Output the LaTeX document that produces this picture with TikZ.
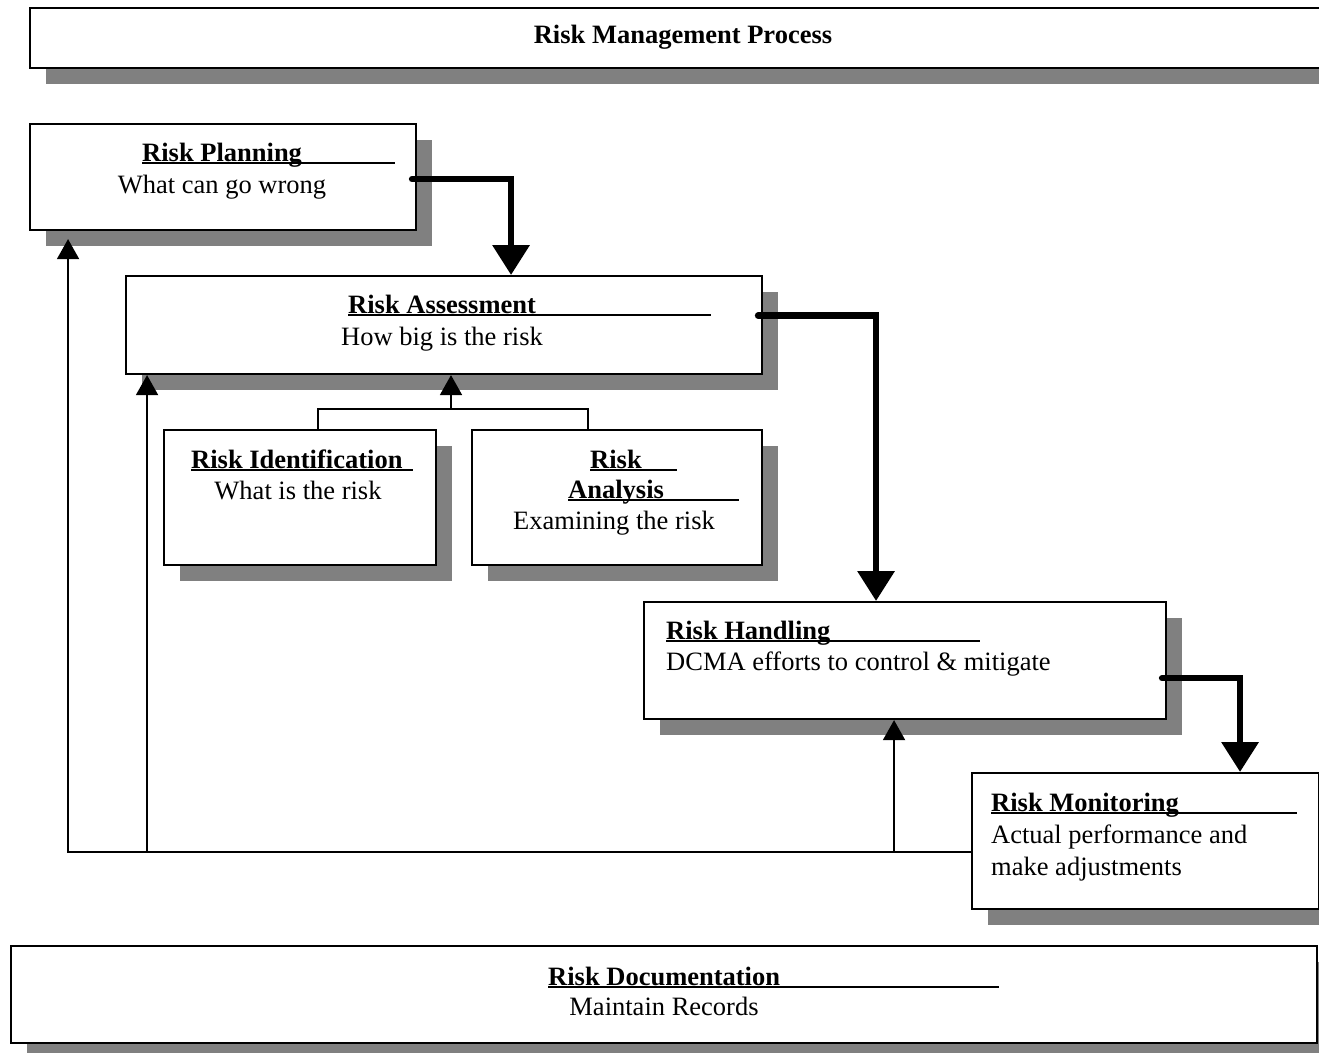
\documentclass[tikz,border=0pt]{standalone}
\usepackage{fontspec}
\setmainfont{Liberation Serif}
\usetikzlibrary{arrows.meta,shadows}
\definecolor{shadowgray}{RGB}{128,128,128}
\newcommand\diagfont{\fontsize{26.5}{32}\selectfont}
% underlined heading, the rule runs on past the words
\newcommand\riskhead[2]{\rlap{\rule[-2.5pt]{#1}{1.8pt}}\makebox[#1][l]{\bfseries #2}}
\begin{document}
\begin{tikzpicture}[x=1pt,y=-1pt,
    box/.style={draw, line width=2.1pt, fill=white, anchor=north west, inner sep=0pt,
        general shadow={fill=shadowgray, shadow xshift=16pt, shadow yshift=-16pt}},
    head/.style={font=\diagfont, inner sep=0pt},
    body/.style={font=\diagfont, inner sep=0pt},
    flow/.style={line width=6.5pt, line cap=round, -{Triangle[length=30pt,width=36pt]}},
    feed/.style={line width=1.8pt},
    feedarrow/.style={feed, -{Triangle[length=20pt,width=22pt]}}]
    \useasboundingbox (0,0) rectangle (1319,1052);

    % Kasten
    \node[box, minimum width=1311pt, minimum height=60pt] (title) at (29,7) {};
    \node[box, minimum width=386pt, minimum height=106pt] (plan) at (29,123) {};
    \node[box, minimum width=636pt, minimum height=98pt] (assess) at (125,275) {};
    \node[box, minimum width=272pt, minimum height=135pt] (ident) at (163,429) {};
    \node[box, minimum width=290pt, minimum height=135pt] (anal) at (471,429) {};
    \node[box, minimum width=522pt, minimum height=117pt] (hand) at (643,601) {};
    \node[box, minimum width=347pt, minimum height=136pt] (mon) at (971,772) {};
    \node[box, minimum width=1306pt, minimum height=97pt] (doc) at (10,945) {};

    % Texte
    \node[head, anchor=base] (titleT) at (683,43) {\bfseries Risk Management Process};
    \node[head, anchor=base west] (planH) at (142,161) {\riskhead{253pt}{Risk Planning}};
    \node[body, anchor=base] (planB) at (222,193) {What can go wrong};
    \node[head, anchor=base west] (assessH) at (348,313) {\riskhead{363pt}{Risk Assessment}};
    \node[body, anchor=base] (assessB) at (442,345) {How big is the risk};
    \node[head, anchor=base west] (identH) at (191,468) {\riskhead{222pt}{Risk Identification}};
    \node[body, anchor=base] (identB) at (298,499) {What is the risk};
    \node[head, anchor=base west] (analH) at (590,468) {\riskhead{87pt}{Risk}};
    \node[head, anchor=base west] (analH2) at (568,498) {\riskhead{171pt}{Analysis}};
    \node[body, anchor=base] (analB) at (614,529) {Examining the risk};
    \node[head, anchor=base west] (handH) at (666,639) {\riskhead{314pt}{Risk Handling}};
    \node[body, anchor=base west] (handB) at (666,670) {DCMA efforts to control \& mitigate};
    \node[head, anchor=base west] (monH) at (991,811) {\riskhead{306pt}{Risk Monitoring}};
    \node[body, anchor=north west, align=left] (monB) at (991,825) {Actual performance and\\make adjustments};
    \node[head, anchor=base west] (docH) at (548,985) {\riskhead{451pt}{Risk Documentation}};
    \node[body, anchor=base] (docB) at (664,1015) {Maintain Records};

    % dicke Pfeile
    \draw[flow] ([xshift=-5pt,yshift=-2pt]plan.east) -| ([xshift=67pt]assess.north);
    \draw[flow] ([xshift=-5pt,yshift=9.5pt]assess.east) -| ([xshift=-29pt]hand.north);
    \draw[flow] ([xshift=-5pt,yshift=-17.5pt]hand.east) -| ([xshift=94.5pt]mon.north);

    % Rueckfuehrung
    \coordinate (back) at ([yshift=-11pt]mon.west);
    \draw[feedarrow] (back) -| ([xshift=-155pt,yshift=-8pt]plan.south);
    \draw[feedarrow] ([xshift=-297pt]assess.south |- back) -- ([xshift=-297pt]assess.south);
    \draw[feedarrow] ([xshift=-11pt]hand.south |- back) -- ([xshift=-11pt]hand.south);

    % Zusammenfuehrung
    \coordinate (join) at (451,409);
    \draw[feed] ([xshift=18pt]ident.north) |- (join) -| ([xshift=-29pt]anal.north);
    \draw[feedarrow] (join) -- (join |- assess.south);
\end{tikzpicture}
\end{document}
